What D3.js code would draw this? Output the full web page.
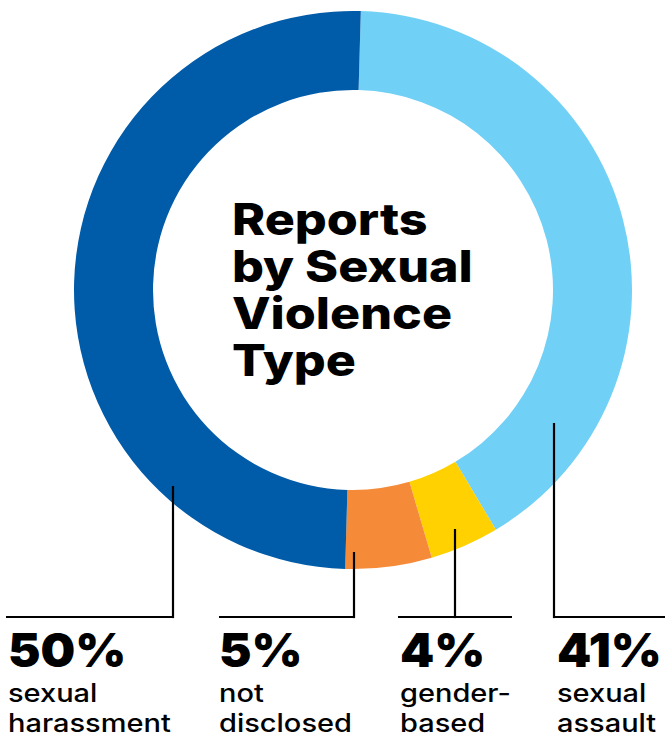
<!DOCTYPE html>
<html>
<head>
<meta charset="utf-8">
<script src="https://cdn.jsdelivr.net/npm/d3@7"></script>
<style>
  html, body { margin: 0; padding: 0; background: #fff; }
  svg { display: block; }
  text { font-family: Inter, "Noto Sans", sans-serif; fill: #000; }
</style>
</head>
<body>
<svg id="chart"></svg>
<script>
// data, clockwise from the top
let categories = ["sexual assault", "gender-based", "not disclosed", "sexual harassment"];
let percents = [41, 4, 5, 50];
let labelLines = [["sexual", "assault"], ["gender-", "based"], ["not", "disclosed"], ["sexual", "harassment"]];
let colors = ["#71d0f6", "#ffd100", "#f58a38", "#005ba8"];
let titleLines = ["Reports", "by Sexual", "Violence", "Type"];

// layout for the call-outs (same order as above)
let textX = [557, 400, 219, 8];
let leaderX = [554, 455, 354, 173];
let leaderTop = [423, 529, 552, 486];
let ruleFrom = [554, 398, 219, 6];
let ruleTo = [665, 512, 354, 173];

function createDonut() {
    let w = 670, h = 738;
    let cx = 353, cy = 290;
    let outerRadius = 279, innerRadius = 200;
    let ruleY = 617;

    let svg = d3.select("#chart")
        .attr("width", w)
        .attr("height", h);

    let pie = d3.pie()
        .sort(null)
        .startAngle(0.028)
        .endAngle(0.028 + 2 * Math.PI);

    let arc = d3.arc()
        .innerRadius(innerRadius)
        .outerRadius(outerRadius);

    let slices = pie(percents);

    svg.append("g")
        .attr("transform", `translate(${cx},${cy})`)
        .selectAll("path")
        .data(slices)
        .enter()
        .append("path")
        .attr("fill", (d, i) => colors[i])
        .attr("d", arc);

    // title in the hole, one text with a tspan per line
    let title = svg.append("text")
        .attr("transform", "translate(232,235) scale(1.14,1)")
        .attr("font-size", 44)
        .attr("font-weight", 800);
    title.selectAll("tspan")
        .data(titleLines)
        .enter()
        .append("tspan")
        .attr("x", 0)
        .attr("y", (d, i) => i * 47)
        .text(d => d);

    // leader lines
    let lines = svg.append("g")
        .attr("stroke", "#000")
        .attr("stroke-width", 2.2)
        .attr("fill", "none");

    categories.forEach((c, i) => {
        lines.append("line")
            .attr("x1", leaderX[i]).attr("x2", leaderX[i])
            .attr("y1", leaderTop[i]).attr("y2", ruleY + 1.1);
        lines.append("line")
            .attr("x1", ruleFrom[i]).attr("x2", ruleTo[i])
            .attr("y1", ruleY).attr("y2", ruleY);
    });

    // labels
    let labels = svg.append("g")
        .selectAll("g")
        .data(categories)
        .enter()
        .append("g")
        .attr("transform", (d, i) => `translate(${textX[i]},0)`);

    labels.append("text")
        .attr("y", 667)
        .attr("transform", "scale(1.04,1)")
        .attr("font-size", 47)
        .attr("font-weight", 900)
        .text((d, i) => percents[i] + "%");

    labels.each(function(d, i) {
        d3.select(this).append("text")
            .attr("transform", "scale(1.16,1)")
            .attr("font-size", 25)
            .attr("font-weight", 500)
            .selectAll("tspan")
            .data(labelLines[i])
            .enter()
            .append("tspan")
            .attr("x", 0)
            .attr("y", (t, j) => 702 + j * 30)
            .text(t => t);
    });
}

window.onload = function() {
    createDonut();
}
</script>
</body>
</html>
